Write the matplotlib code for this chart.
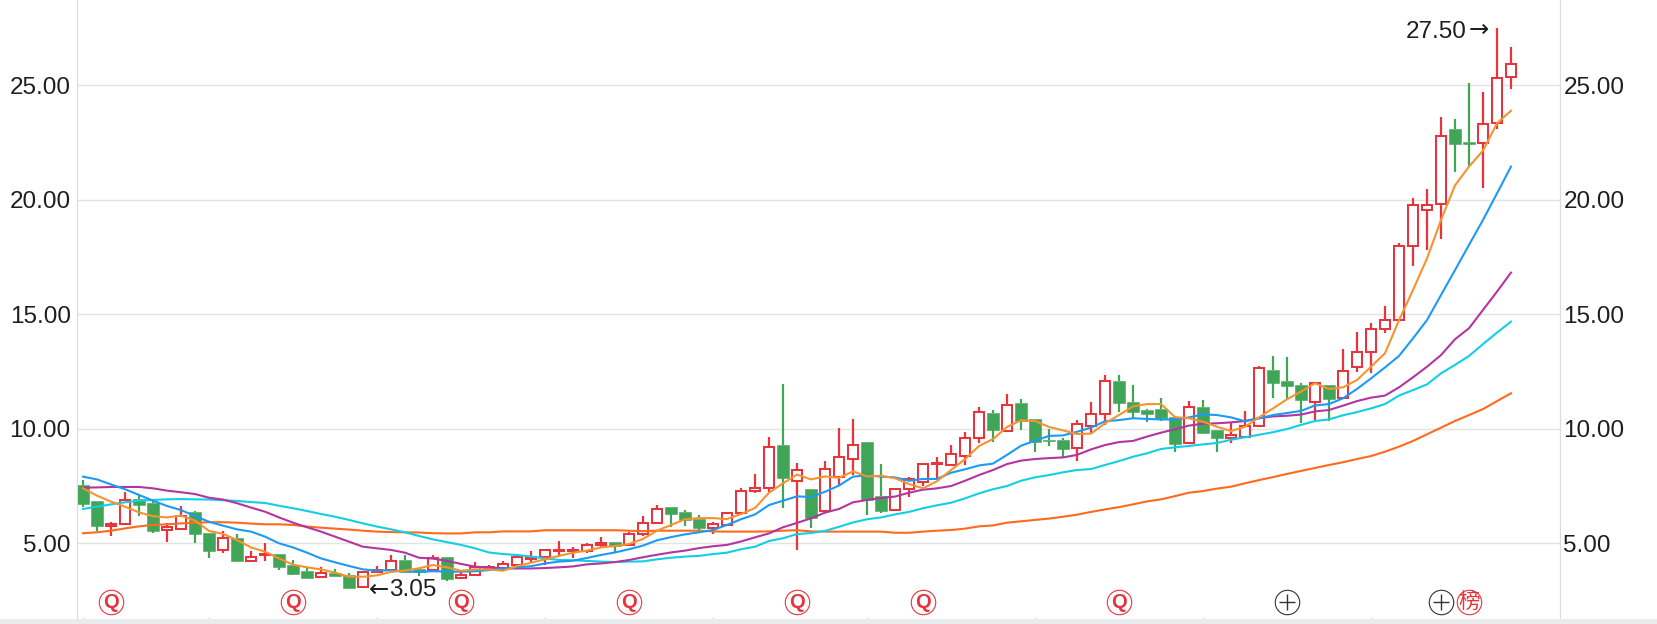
import matplotlib
matplotlib.use('Agg')
import matplotlib.pyplot as plt

opens = [7.55, 6.85, 5.77, 5.83, 6.92, 6.75, 5.58, 5.62, 6.37, 5.45,
         4.69, 5.23, 4.21, 4.47, 4.53, 4.05, 3.79, 3.53, 3.72, 3.61,
         3.09, 3.76, 3.83, 4.27, 3.86, 3.83, 4.39, 3.47, 3.61, 3.86,
         3.92, 4.07, 4.33, 4.39, 4.65, 4.65, 4.65, 4.91, 5.04, 4.93,
         5.39, 5.90, 6.59, 6.35, 6.06, 5.65, 5.80, 6.31, 7.27, 7.40,
         9.29, 7.72, 7.37, 6.41, 7.88, 8.68, 9.41, 7.05, 6.45, 7.37,
         7.69, 8.45, 8.43, 8.81, 9.60, 10.69, 9.90, 11.12, 10.41, 9.51,
         9.51, 9.14, 10.14, 10.63, 12.07, 11.15, 10.82, 10.85, 10.53, 9.38,
         10.94, 9.95, 9.61, 9.66, 10.12, 12.55, 12.09, 11.90, 11.17, 11.90,
         11.34, 12.71, 13.35, 14.34, 14.74, 17.97, 19.54, 19.82, 23.08, 22.51,
         22.48, 23.34, 25.35]
closes = [6.72, 5.75, 5.84, 6.90, 6.67, 5.54, 5.73, 6.21, 5.42, 4.66,
          5.24, 4.23, 4.40, 4.55, 3.98, 3.66, 3.50, 3.72, 3.59, 3.06,
          3.75, 3.83, 4.23, 3.76, 3.76, 4.34, 3.45, 3.60, 3.95, 3.98,
          4.10, 4.42, 4.42, 4.71, 4.71, 4.71, 4.94, 5.00, 4.88, 5.40,
          5.89, 6.50, 6.29, 6.02, 5.68, 5.84, 6.34, 7.28, 7.43, 9.20,
          7.87, 8.20, 6.12, 8.24, 8.77, 9.29, 6.89, 6.42, 7.37, 7.80,
          8.46, 8.52, 8.90, 9.61, 10.75, 9.95, 11.05, 10.35, 9.44, 9.45,
          9.13, 10.21, 10.65, 12.09, 11.12, 10.73, 10.66, 10.46, 9.35, 10.97,
          9.83, 9.61, 9.71, 10.14, 12.67, 12.00, 11.88, 11.27, 12.01, 11.30,
          12.54, 13.37, 14.36, 14.75, 18.00, 19.79, 19.79, 22.79, 22.45, 22.42,
          23.31, 25.32, 25.94]
highs = [7.76, 6.85, 5.94, 7.24, 7.11, 6.92, 5.87, 6.63, 6.41, 5.45,
         5.54, 5.41, 4.66, 5.00, 4.53, 4.27, 3.95, 3.95, 3.86, 3.72,
         3.75, 4.01, 4.47, 4.47, 3.86, 4.47, 4.39, 3.75, 4.18, 4.07,
         4.21, 4.42, 4.65, 4.71, 5.08, 4.85, 5.03, 5.26, 5.07, 5.49,
         6.19, 6.66, 6.59, 6.45, 6.24, 5.91, 6.38, 7.40, 8.03, 9.63,
         11.96, 8.52, 7.37, 8.58, 10.02, 10.41, 9.41, 8.45, 7.43, 7.91,
         8.46, 8.75, 9.28, 9.86, 10.95, 10.80, 11.52, 11.30, 10.41, 9.99,
         9.58, 10.37, 11.17, 12.35, 12.35, 11.91, 10.86, 11.34, 10.56, 11.20,
         11.26, 9.95, 10.24, 10.78, 12.74, 13.18, 13.12, 11.98, 12.01, 11.90,
         13.47, 14.23, 14.63, 15.36, 18.10, 20.07, 20.46, 23.60, 23.51, 25.09,
         24.69, 27.50, 26.66]
lows = [6.57, 5.54, 5.32, 5.83, 6.19, 5.46, 5.07, 5.58, 5.00, 4.37,
        4.59, 4.23, 4.21, 4.24, 3.83, 3.63, 3.50, 3.50, 3.59, 3.06,
        3.05, 3.72, 3.83, 3.76, 3.59, 3.76, 3.37, 3.47, 3.61, 3.83,
        3.80, 3.86, 4.18, 4.04, 4.39, 4.36, 4.59, 4.78, 4.63, 4.88,
        5.33, 5.86, 5.72, 5.77, 5.43, 5.40, 5.75, 6.24, 7.18, 7.25,
        6.55, 4.71, 5.68, 6.37, 7.55, 7.98, 6.23, 6.34, 6.45, 7.04,
        7.50, 7.84, 8.37, 8.42, 9.38, 9.44, 9.90, 9.95, 8.99, 9.25,
        8.78, 8.61, 9.77, 10.17, 10.72, 10.41, 10.30, 10.34, 8.99, 9.38,
        9.83, 9.00, 9.37, 9.66, 10.12, 11.36, 11.30, 10.27, 10.35, 10.35,
        11.34, 12.49, 12.45, 14.20, 14.74, 17.12, 17.81, 18.29, 21.21, 21.45,
        20.51, 23.08, 24.85]

ma_orange = [7.40, 7.08, 6.82, 6.60, 6.35, 6.18, 6.13, 6.21, 5.99, 5.54,
             5.41, 5.14, 4.82, 4.63, 4.34, 4.07, 3.95, 3.86, 3.72, 3.54,
             3.54, 3.60, 3.75, 3.81, 3.91, 4.05, 3.95, 3.80, 3.86, 3.86,
             3.80, 4.00, 4.15, 4.30, 4.45, 4.59, 4.68, 4.82, 4.88, 4.97,
             5.19, 5.55, 5.80, 6.05, 6.10, 6.10, 6.06, 6.28, 6.54, 7.21,
             7.62, 8.00, 7.79, 7.92, 7.86, 8.14, 7.92, 7.95, 7.84, 7.59,
             7.40, 7.71, 8.20, 8.67, 9.25, 9.55, 10.08, 10.37, 10.34, 10.08,
             9.93, 9.77, 9.79, 10.24, 10.60, 10.98, 11.08, 11.08, 10.51, 10.46,
             10.31, 10.09, 9.90, 10.09, 10.50, 10.89, 11.29, 11.62, 11.99, 11.74,
             11.81, 12.13, 12.71, 13.30, 14.74, 16.06, 17.44, 19.12, 20.63, 21.45,
             22.15, 23.34, 23.89]
ma_blue = [7.91, 7.79, 7.57, 7.36, 7.11, 6.86, 6.63, 6.45, 6.19, 5.94,
           5.77, 5.61, 5.51, 5.29, 5.00, 4.82, 4.59, 4.34, 4.17, 4.01,
           3.86, 3.81, 3.82, 3.78, 3.75, 3.78, 3.76, 3.76, 3.78, 3.83,
           3.90, 3.95, 4.00, 4.12, 4.20, 4.24, 4.36, 4.49, 4.60, 4.74,
           4.90, 5.13, 5.27, 5.39, 5.48, 5.58, 5.80, 6.05, 6.26, 6.67,
           6.86, 7.05, 7.02, 7.25, 7.52, 7.91, 7.97, 7.91, 7.88, 7.73,
           7.81, 7.81, 8.08, 8.23, 8.40, 8.48, 8.86, 9.26, 9.48, 9.69,
           9.71, 9.87, 10.05, 10.33, 10.38, 10.46, 10.43, 10.41, 10.40, 10.50,
           10.63, 10.60, 10.50, 10.33, 10.46, 10.60, 10.69, 10.78, 11.02, 11.08,
           11.33, 11.74, 12.20, 12.68, 13.18, 13.95, 14.75, 15.84, 16.93, 18.03,
           19.12, 20.28, 21.45]
ma_purple = [7.43, 7.44, 7.46, 7.46, 7.46, 7.40, 7.30, 7.23, 7.15, 6.99,
             6.91, 6.75, 6.56, 6.38, 6.13, 5.90, 5.70, 5.51, 5.29, 5.07,
             4.85, 4.78, 4.71, 4.59, 4.37, 4.33, 4.23, 4.10, 3.98, 3.94,
             3.90, 3.90, 3.90, 3.92, 3.95, 3.99, 4.08, 4.12, 4.18, 4.27,
             4.39, 4.50, 4.60, 4.68, 4.79, 4.87, 4.93, 5.08, 5.26, 5.43,
             5.70, 5.89, 6.09, 6.34, 6.50, 6.79, 6.89, 6.98, 7.04, 7.21,
             7.34, 7.40, 7.50, 7.73, 7.98, 8.20, 8.46, 8.61, 8.68, 8.72,
             8.75, 8.86, 9.10, 9.29, 9.42, 9.47, 9.66, 9.83, 9.98, 10.14,
             10.22, 10.24, 10.28, 10.34, 10.46, 10.54, 10.57, 10.62, 10.76, 10.82,
             11.01, 11.21, 11.36, 11.45, 11.81, 12.25, 12.71, 13.22, 13.91, 14.39,
             15.19, 15.99, 16.82]
ma_cyan = [6.50, 6.60, 6.70, 6.79, 6.86, 6.89, 6.92, 6.93, 6.92, 6.91,
           6.88, 6.85, 6.80, 6.76, 6.64, 6.53, 6.41, 6.28, 6.16, 6.02,
           5.87, 5.73, 5.61, 5.48, 5.32, 5.17, 5.05, 4.93, 4.78, 4.60,
           4.53, 4.49, 4.42, 4.34, 4.27, 4.26, 4.23, 4.20, 4.18, 4.20,
           4.21, 4.30, 4.37, 4.42, 4.45, 4.53, 4.59, 4.74, 4.85, 5.10,
           5.22, 5.40, 5.45, 5.54, 5.72, 5.91, 6.05, 6.13, 6.26, 6.37,
           6.53, 6.66, 6.77, 6.96, 7.18, 7.36, 7.50, 7.73, 7.88, 7.98,
           8.10, 8.20, 8.24, 8.42, 8.59, 8.78, 8.93, 9.12, 9.19, 9.25,
           9.32, 9.38, 9.52, 9.63, 9.74, 9.85, 9.99, 10.17, 10.34, 10.41,
           10.59, 10.73, 10.89, 11.08, 11.45, 11.69, 11.94, 12.42, 12.79, 13.18,
           13.70, 14.20, 14.68]
ma_deep = [5.44, 5.48, 5.55, 5.65, 5.74, 5.80, 5.83, 5.87, 5.90, 5.92,
           5.92, 5.90, 5.86, 5.83, 5.83, 5.80, 5.73, 5.68, 5.64, 5.60,
           5.55, 5.51, 5.49, 5.48, 5.47, 5.44, 5.43, 5.43, 5.48, 5.48,
           5.52, 5.52, 5.52, 5.57, 5.57, 5.57, 5.57, 5.57, 5.57, 5.55,
           5.53, 5.55, 5.55, 5.55, 5.55, 5.52, 5.51, 5.51, 5.51, 5.52,
           5.55, 5.57, 5.52, 5.51, 5.51, 5.51, 5.51, 5.51, 5.46, 5.46,
           5.51, 5.55, 5.58, 5.64, 5.74, 5.78, 5.90, 5.96, 6.02, 6.08,
           6.16, 6.25, 6.37, 6.48, 6.58, 6.70, 6.83, 6.92, 7.06, 7.21,
           7.28, 7.39, 7.47, 7.62, 7.76, 7.89, 8.03, 8.16, 8.29, 8.42,
           8.54, 8.68, 8.81, 9.00, 9.22, 9.47, 9.76, 10.05, 10.34, 10.60,
           10.86, 11.21, 11.55]

y_ticks = [5, 10, 15, 20, 25]
x_ticks = [0, 9, 21, 33, 45, 56, 68, 80, 92]
q_days = [2, 15, 27, 39, 51, 60, 74]
plus_days = [86, 97]
bang_days = [99]

RED = '#e8353d'
GREEN = '#41a558'
GRID = '#e3e3e3'
INK = '#1e1e1e'
FONT = 'Liberation Sans'

fig = plt.figure(figsize=(16.58, 6.24), dpi=100)
fig.patch.set_facecolor('white')
ax = fig.add_axes([77 / 1658, 5 / 624, (1560 - 77) / 1658, 619 / 624])
ax.set_xlim(-0.43, 105.5)
ax.set_ylim(1.694, 28.725)

for v in y_ticks:
    ax.axhline(v, color=GRID, lw=1, zorder=1)

# candles: hollow red up days, solid green down days
for i in range(len(opens)):
    top = max(opens[i], closes[i])
    bot = min(opens[i], closes[i])
    up = closes[i] >= opens[i]
    c = RED if up else GREEN
    ax.vlines(i, top, highs[i], color=c, lw=1.6, zorder=2)
    ax.vlines(i, lows[i], bot, color=c, lw=1.6, zorder=2)
    if up:
        ax.bar(i, top - bot, bottom=bot, width=0.68, facecolor='white', edgecolor=c, lw=1.45, zorder=3)
    else:
        ax.bar(i, top - bot, bottom=bot, width=0.84, facecolor=c, edgecolor=c, lw=0.4, zorder=3)

days = range(len(opens))
ax.plot(days, ma_deep, color='#ff6a1c', lw=1.5, zorder=4)
ax.plot(days, ma_cyan, color='#12cfe6', lw=1.5, zorder=4)
ax.plot(days, ma_purple, color='#b2369f', lw=1.5, zorder=4)
ax.plot(days, ma_blue, color='#1b9bf5', lw=1.5, zorder=4)
ax.plot(days, ma_orange, color='#f8922f', lw=1.5, zorder=5)

# price labels, the arrow comes from DejaVu because the Liberation one is too short
ax.annotate('27.50', (101, 27.5), xytext=(-21.6, -2.5), textcoords='offset points',
            ha='right', va='center', fontsize=17.5, family=FONT, color=INK)
ax.annotate('→', (101, 27.5), xytext=(-5.5, -1.5), textcoords='offset points',
            ha='right', va='center', fontsize=17.5, family='DejaVu Sans', color=INK)
ax.annotate('←', (20, 3.05), xytext=(4, -1.5), textcoords='offset points',
            ha='left', va='center', fontsize=17.5, family='DejaVu Sans', color=INK)
ax.annotate('3.05', (20, 3.05), xytext=(19, -1.5), textcoords='offset points',
            ha='left', va='center', fontsize=17.5, family=FONT, color=INK)

# event markers along the bottom
mark_y = 2.43
for d in q_days:
    ax.scatter(d, mark_y, s=310, facecolor='white', edgecolor=RED, lw=0.8, zorder=6)
    ax.text(d, mark_y - 0.03, 'Q', color=RED, fontsize=14.5, fontweight='bold', family=FONT,
            ha='center', va='center', zorder=7)
for d in plus_days:
    ax.scatter(d, mark_y, s=310, facecolor='white', edgecolor='#333333', lw=0.8, zorder=6)
    ax.scatter(d, mark_y, s=130, marker='+', color='#333333', lw=1, zorder=7)
for d in bang_days:
    ax.scatter(d, mark_y, s=310, facecolor='white', edgecolor=RED, lw=0.8, zorder=6)
    ax.text(d, mark_y, '榜', color=RED, fontsize=15.5, family='Noto Sans CJK SC',
            ha='center', va='center', zorder=7)

ax.set_yticks(y_ticks)
ax.set_yticklabels(['%.2f' % v for v in y_ticks], fontsize=17.5, family=FONT, color=INK)
ax.tick_params(axis='y', length=0, pad=4.5)
ax.set_xticks(x_ticks)
ax.set_xticklabels([])
ax.tick_params(axis='x', direction='in', length=1.5, color='#dddddd', width=1)

ax2 = ax.twinx()
ax2.set_ylim(ax.get_ylim())
ax2.set_yticks(y_ticks)
ax2.set_yticklabels(['%.2f' % v for v in y_ticks], fontsize=17.5, family=FONT, color=INK)
ax2.tick_params(axis='y', length=0, pad=2.5)

for a in (ax, ax2):
    a.spines['top'].set_visible(False)
    a.spines['bottom'].set_visible(False)
    a.spines['left'].set_color('#dddddd')
    a.spines['right'].set_color('#dddddd')

fig.patches.append(plt.Rectangle((0, 0), 1, 5 / 624, transform=fig.transFigure, facecolor='#e9ecef', edgecolor='none'))

fig.savefig('out.png', dpi=100)
